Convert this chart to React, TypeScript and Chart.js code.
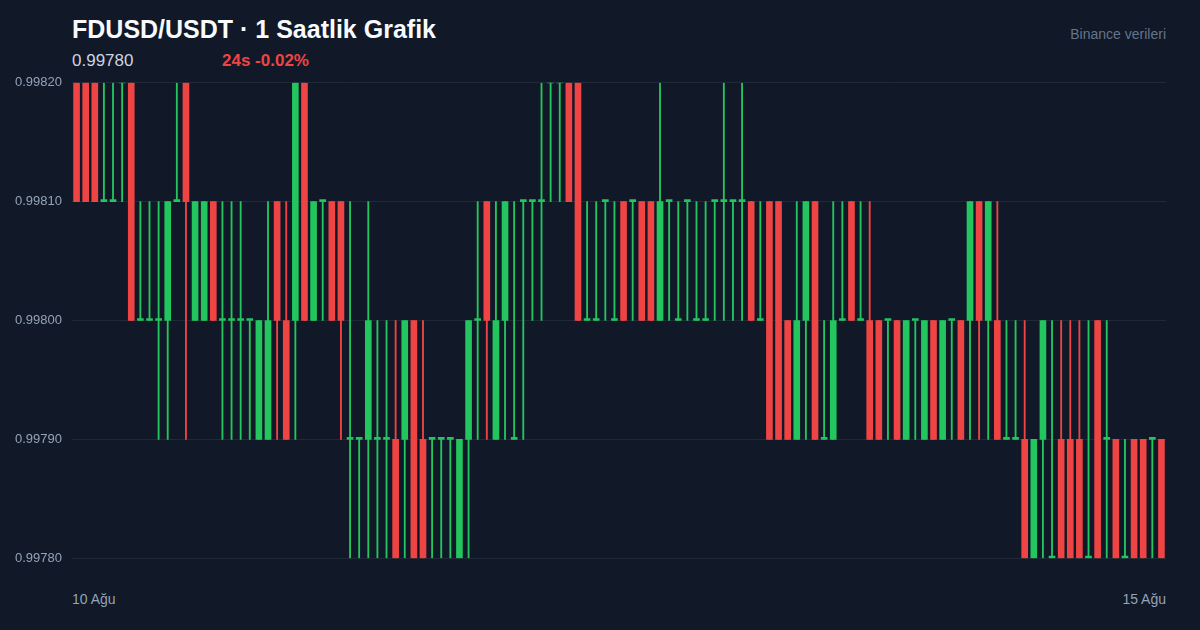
import React, { useEffect, useRef } from 'react';
import Chart from 'chart.js/auto';

// 1h candles, 10 Ağu -> 15 Ağu (120 bars)
const opens = [
	0.9982, 0.9982, 0.9982, 0.9981, 0.9981, 0.9982, 0.9982, 0.998, 0.998, 0.998,
	0.998, 0.9981, 0.9982, 0.998, 0.998, 0.9981, 0.998, 0.998, 0.998, 0.998,
	0.9979, 0.9979, 0.9981, 0.998, 0.998, 0.9982, 0.998, 0.9981, 0.9981, 0.9981,
	0.9979, 0.9979, 0.9979, 0.9979, 0.9979, 0.9979, 0.9979, 0.998, 0.9979, 0.9979,
	0.9979, 0.9979, 0.9978, 0.9979, 0.998, 0.9981, 0.9979, 0.998, 0.9979, 0.9981,
	0.9981, 0.9981, 0.9982, 0.9982, 0.9982, 0.9982, 0.998, 0.998, 0.9981, 0.998,
	0.9981, 0.9981, 0.9981, 0.9981, 0.998, 0.9981, 0.998, 0.9981, 0.998, 0.998,
	0.9981, 0.9981, 0.9981, 0.9981, 0.9981, 0.998, 0.9981, 0.9981, 0.998, 0.9979,
	0.998, 0.9981, 0.9979, 0.9979, 0.998, 0.9981, 0.998, 0.998, 0.998, 0.998,
	0.998, 0.9979, 0.998, 0.9979, 0.998, 0.9979, 0.998, 0.998, 0.998, 0.9981,
	0.998, 0.998, 0.9979, 0.9979, 0.9979, 0.9978, 0.9979, 0.9978, 0.9979, 0.9979,
	0.9979, 0.9978, 0.998, 0.9979, 0.9979, 0.9978, 0.9979, 0.9979, 0.9979, 0.9979
];
const highs = [
	0.9982, 0.9982, 0.9982, 0.9982, 0.9982, 0.9982, 0.9982, 0.9981, 0.9981, 0.9981,
	0.9981, 0.9982, 0.9982, 0.9981, 0.9981, 0.9981, 0.9981, 0.9981, 0.9981, 0.998,
	0.998, 0.9981, 0.9981, 0.9981, 0.9982, 0.9982, 0.9981, 0.9981, 0.9981, 0.9981,
	0.9981, 0.9979, 0.9981, 0.998, 0.998, 0.998, 0.998, 0.998, 0.998, 0.9979,
	0.9979, 0.9979, 0.9979, 0.998, 0.9981, 0.9981, 0.9981, 0.9981, 0.9981, 0.9981,
	0.9981, 0.9982, 0.9982, 0.9982, 0.9982, 0.9982, 0.9981, 0.9981, 0.9981, 0.9981,
	0.9981, 0.9981, 0.9981, 0.9981, 0.9982, 0.9981, 0.9981, 0.9981, 0.9981, 0.9981,
	0.9981, 0.9982, 0.9981, 0.9982, 0.9981, 0.9981, 0.9981, 0.9981, 0.998, 0.9981,
	0.9981, 0.9981, 0.998, 0.9981, 0.9981, 0.9981, 0.9981, 0.9981, 0.998, 0.998,
	0.998, 0.998, 0.998, 0.998, 0.998, 0.998, 0.998, 0.998, 0.9981, 0.9981,
	0.9981, 0.9981, 0.998, 0.998, 0.998, 0.9979, 0.998, 0.998, 0.998, 0.998,
	0.998, 0.998, 0.998, 0.998, 0.9979, 0.9979, 0.9979, 0.9979, 0.9979, 0.9979
];
const lows = [
	0.9981, 0.9981, 0.9981, 0.9981, 0.9981, 0.9981, 0.998, 0.998, 0.998, 0.9979,
	0.9979, 0.9981, 0.9979, 0.998, 0.998, 0.998, 0.9979, 0.9979, 0.9979, 0.9979,
	0.9979, 0.9979, 0.9979, 0.9979, 0.9979, 0.998, 0.998, 0.998, 0.998, 0.9979,
	0.9978, 0.9978, 0.9978, 0.9978, 0.9978, 0.9978, 0.9978, 0.9978, 0.9978, 0.9978,
	0.9978, 0.9978, 0.9978, 0.9978, 0.9979, 0.9979, 0.9979, 0.9979, 0.9979, 0.9979,
	0.998, 0.998, 0.9981, 0.9981, 0.9981, 0.998, 0.998, 0.998, 0.998, 0.998,
	0.998, 0.998, 0.998, 0.998, 0.998, 0.998, 0.998, 0.998, 0.998, 0.998,
	0.998, 0.998, 0.998, 0.998, 0.998, 0.998, 0.9979, 0.9979, 0.9979, 0.9979,
	0.9979, 0.9979, 0.9979, 0.9979, 0.998, 0.998, 0.998, 0.9979, 0.9979, 0.9979,
	0.9979, 0.9979, 0.9979, 0.9979, 0.9979, 0.9979, 0.9979, 0.9979, 0.9979, 0.9979,
	0.9979, 0.9979, 0.9979, 0.9979, 0.9978, 0.9978, 0.9978, 0.9978, 0.9978, 0.9978,
	0.9978, 0.9978, 0.9978, 0.9978, 0.9978, 0.9978, 0.9978, 0.9978, 0.9978, 0.9978
];
const closes = [
	0.9981, 0.9981, 0.9981, 0.9981, 0.9981, 0.9982, 0.998, 0.998, 0.998, 0.998,
	0.9981, 0.9981, 0.9981, 0.9981, 0.9981, 0.998, 0.998, 0.998, 0.998, 0.998,
	0.998, 0.998, 0.998, 0.9979, 0.9982, 0.998, 0.9981, 0.9981, 0.998, 0.998,
	0.9979, 0.9979, 0.998, 0.9979, 0.9979, 0.9978, 0.998, 0.9978, 0.9978, 0.9979,
	0.9979, 0.9979, 0.9979, 0.998, 0.998, 0.998, 0.998, 0.9981, 0.9979, 0.9981,
	0.9981, 0.9981, 0.9982, 0.9982, 0.9981, 0.998, 0.998, 0.998, 0.9981, 0.998,
	0.998, 0.9981, 0.998, 0.998, 0.9981, 0.9981, 0.998, 0.9981, 0.998, 0.998,
	0.9981, 0.9981, 0.9981, 0.9981, 0.998, 0.998, 0.9979, 0.9979, 0.9979, 0.998,
	0.9981, 0.9979, 0.9979, 0.998, 0.998, 0.998, 0.998, 0.9979, 0.9979, 0.998,
	0.9979, 0.998, 0.998, 0.998, 0.9979, 0.998, 0.998, 0.9979, 0.9981, 0.998,
	0.9981, 0.9979, 0.9979, 0.9979, 0.9978, 0.9979, 0.998, 0.9978, 0.9978, 0.9978,
	0.9978, 0.9978, 0.9978, 0.9979, 0.9978, 0.9978, 0.9978, 0.9978, 0.9979, 0.9978
];

const hourLabels = opens.map((_, i) => `${10 + Math.floor(i / 24)} Ağu ${String(i % 24).padStart(2, '0')}:00`);
const yTicks = [0.9978, 0.9979, 0.998, 0.9981, 0.9982];
const xEdgeLabels = ['10 Ağu', '15 Ağu'];

const lastPrice = '0.99780';
const change24h = '24s -0.02%';

const UP = '#22c55e';
const DOWN = '#ef4444';
const FONT = "'Liberation Sans', Arial, sans-serif";

function CandleChart() {
	const chartRef = useRef<HTMLCanvasElement>(null);
	const chartInstance = useRef<Chart | null>(null);

	useEffect(() => {
		if (chartInstance.current) {
			chartInstance.current.destroy();
		}
		if (!chartRef.current) return;
		const ctx = chartRef.current.getContext('2d');
		if (!ctx) return;

		const colors = opens.map((o, i) => (closes[i] >= o ? UP : DOWN));

		chartInstance.current = new Chart(ctx, {
			type: 'bar',
			data: {
				labels: hourLabels,
				datasets: [
					{
						// bodies
						data: opens.map((o, i) => [o, closes[i]]),
						backgroundColor: colors,
						barThickness: 6,
						minBarLength: 2,
						grouped: false,
						borderWidth: 0
					},
					{
						// wicks
						data: lows.map((l, i) => [l, highs[i]]),
						backgroundColor: colors,
						barThickness: 1.2,
						grouped: false,
						borderWidth: 0
					}
				]
			},
			options: {
				responsive: true,
				maintainAspectRatio: false,
				animation: false,
				layout: { padding: { top: 7, bottom: 6, left: 0, right: 14 } },
				plugins: {
					legend: { display: false },
					tooltip: { enabled: false }
				},
				scales: {
					x: {
						display: false,
						offset: true
					},
					y: {
						min: yTicks[0],
						max: yTicks[yTicks.length - 1],
						beginAtZero: false,
						afterFit: (axis: any) => {
							axis.width = 72;
						},
						afterBuildTicks: (axis: any) => {
							axis.ticks = yTicks.map((v) => ({ value: v }));
						},
						grid: { color: '#1f2937', lineWidth: 1, drawTicks: false },
						border: { display: false },
						ticks: {
							padding: 10,
							color: '#94a3b8',
							font: { family: FONT, size: 13 },
							callback: (v: any) => Number(v).toFixed(5)
						}
					}
				}
			}
		});

		return () => {
			if (chartInstance.current) {
				chartInstance.current.destroy();
				chartInstance.current = null;
			}
		};
	}, []);

	return (
		<div style={{ position: 'absolute', left: 0, top: 65, width: 1180, height: 511 }}>
			<canvas ref={chartRef}></canvas>
		</div>
	);
}

export default function App() {
	const text = { position: 'absolute' as const, lineHeight: 1, whiteSpace: 'nowrap' as const, fontFamily: FONT };
	return (
		<div
			style={{
				position: 'fixed',
				left: 0,
				top: 0,
				width: 1200,
				height: 630,
				background: '#111827',
				overflow: 'hidden',
				fontFamily: FONT
			}}
		>
			<div style={{ ...text, left: 72, top: 16.8, fontSize: 25, fontWeight: 700, color: '#f8fafc' }}>
				FDUSD/USDT · 1 Saatlik Grafik
			</div>
			<div style={{ ...text, left: 72, top: 51.5, fontSize: 17, color: '#cbd5e1' }}>{lastPrice}</div>
			<div style={{ ...text, left: 222, top: 51.5, fontSize: 17, fontWeight: 700, color: DOWN }}>{change24h}</div>
			<div style={{ ...text, right: 34, top: 26.5, fontSize: 14, color: '#64748b' }}>Binance verileri</div>
			<CandleChart />
			<div style={{ ...text, left: 72, top: 592, fontSize: 14, color: '#94a3b8' }}>{xEdgeLabels[0]}</div>
			<div style={{ ...text, right: 34, top: 592, fontSize: 14, color: '#94a3b8' }}>{xEdgeLabels[1]}</div>
		</div>
	);
}
